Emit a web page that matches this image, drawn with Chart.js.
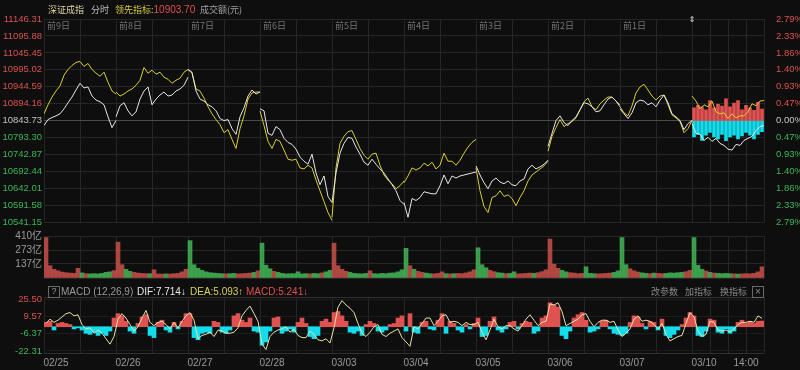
<!DOCTYPE html>
<html>
<head>
<meta charset="utf-8">
<script src="https://cdn.jsdelivr.net/npm/chart.js@4.4.1/dist/chart.umd.min.js"></script>
<style>
html, body { margin: 0; padding: 0; background: #0e0e0e; }
#wrap { position: relative; width: 800px; height: 370px; background: #0e0e0e; overflow: hidden; }
canvas { position: absolute; left: 0; }
</style>
</head>
<body>
<div id="wrap">
  <canvas id="main" width="800" height="232" style="top:0px"></canvas>
  <canvas id="vol" width="800" height="58" style="top:228px"></canvas>
  <canvas id="macd" width="800" height="86" style="top:284px"></canvas>
</div>
<script>
// ---- data ----
const dayLabels = ['02/25', '02/26', '02/27', '02/28', '03/03', '03/04', '03/05', '03/06', '03/07', '03/10'];
const dayNames = ['前9日', '前8日', '前7日', '前6日', '前5日', '前4日', '前3日', '前2日', '前1日'];
const todayTime = '14:00';
const prevClose = 10843.73;
const priceTicks = [11146.31, 11095.88, 11045.45, 10995.02, 10944.59, 10894.16, 10843.73,
                    10793.30, 10742.87, 10692.44, 10642.01, 10591.58, 10541.15];
const volTicks = [137, 273, 410];
const macdTicks = [25.50, 9.57, -6.37, -22.31];

// 深证成指, 19 samples per day (open .. close)
const indexPrice = [
  [10829, 10847, 10853, 10858, 10864, 10879, 10897, 10914, 10935, 10955, 10941, 10944, 10917, 10905, 10900, 10891, 10855, 10823, 10844],
  [10855, 10888, 10897, 10873, 10858, 10870, 10908, 10932, 10944, 10891, 10908, 10920, 10929, 10917, 10920, 10932, 10938, 10949, 10973],
  [10996, 10988, 10932, 10908, 10902, 10891, 10885, 10873, 10850, 10844, 10847, 10820, 10803, 10855, 10882, 10917, 10935, 10923, 10929],
  [10879, 10873, 10806, 10800, 10826, 10817, 10791, 10779, 10773, 10759, 10735, 10723, 10714, 10744, 10688, 10653, 10679, 10618, 10600],
  [10600, 10688, 10747, 10776, 10794, 10791, 10765, 10744, 10720, 10711, 10729, 10714, 10700, 10688, 10670, 10653, 10635, 10606, 10594],
  [10600, 10556, 10612, 10606, 10615, 10632, 10629, 10626, 10626, 10650, 10682, 10656, 10679, 10673, 10679, 10682, 10685, 10688, 10691],
  [10709, 10682, 10659, 10641, 10664, 10673, 10661, 10656, 10664, 10653, 10650, 10664, 10670, 10700, 10711, 10700, 10706, 10714, 10726],
  [10767, 10806, 10844, 10858, 10838, 10829, 10844, 10855, 10876, 10897, 10894, 10885, 10870, 10873, 10891, 10908, 10914, 10902, 10885],
  [10879, 10864, 10850, 10867, 10897, 10905, 10902, 10891, 10897, 10885, 10905, 10920, 10897, 10864, 10855, 10844, 10817, 10835, 10844],
  [10835, 10806, 10803, 10785, 10794, 10782, 10791, 10776, 10770, 10759, 10756, 10773, 10770, 10785, 10791, 10797, 10814, 10826, 10829]
];

// 领先指标
const leadPrice = [
  [10864, 10891, 10914, 10932, 10947, 10979, 10996, 11008, 11017, 11020, 11005, 11014, 10996, 10985, 10976, 10988, 10958, 10932, 10923],
  [10929, 10917, 10923, 10932, 10938, 10949, 10964, 11002, 10985, 10994, 10982, 10988, 10973, 10967, 10955, 10964, 10970, 10988, 10996],
  [10996, 10985, 10938, 10932, 10911, 10885, 10864, 10847, 10832, 10808, 10817, 10788, 10761, 10820, 10858, 10908, 10926, 10929, 10929],
  [10873, 10829, 10782, 10761, 10788, 10782, 10756, 10729, 10726, 10729, 10703, 10700, 10711, 10703, 10667, 10635, 10603, 10570, 10547],
  [10556, 10703, 10776, 10797, 10811, 10814, 10788, 10761, 10741, 10729, 10744, 10747, 10711, 10682, 10667, 10656, 10641, 10650, 10664],
  [10659, 10679, 10703, 10697, 10703, 10717, 10709, 10720, 10700, 10711, 10747, 10723, 10723, 10711, 10726, 10747, 10765, 10779, 10788],
  [10703, 10635, 10588, 10570, 10615, 10620, 10635, 10618, 10623, 10612, 10591, 10615, 10635, 10664, 10682, 10691, 10700, 10709, 10723],
  [10753, 10797, 10823, 10847, 10826, 10835, 10841, 10852, 10876, 10900, 10911, 10885, 10876, 10894, 10905, 10914, 10914, 10902, 10891],
  [10885, 10867, 10858, 10888, 10926, 10944, 10952, 10935, 10917, 10905, 10917, 10920, 10891, 10861, 10852, 10841, 10808, 10820, 10844],
  [10917, 10902, 10879, 10891, 10885, 10902, 10870, 10864, 10867, 10850, 10864, 10852, 10858, 10858, 10870, 10894, 10888, 10902, 10903.70]
];

// today's red / cyan bars, in percent
const todayUp = [0.35, 0.42, 0.38, 0.30, 0.55, 0.35, 0.45, 0.40, 0.60, 0.38, 0.48, 0.55, 0.30, 0.42, 0.35, 0.28, 0.50, 0.32];
const todayDown = [-0.45, -0.38, -0.54, -0.40, -0.32, -0.45, -0.50, -0.38, -0.55, -0.45, -0.40, -0.50, -0.42, -0.32, -0.40, -0.50, -0.38, -0.30];

// 成交额 (亿), 18 buckets per day
const volume = [
  [395, 120, 85, 70, 58, 52, 48, 45, 95, 50, 42, 40, 42, 40, 45, 55, 60, 72],
  [350, 130, 85, 65, 55, 48, 45, 42, 42, 80, 40, 38, 40, 38, 42, 45, 60, 85],
  [365, 130, 95, 75, 60, 52, 48, 45, 42, 40, 42, 45, 40, 42, 45, 48, 55, 70],
  [340, 125, 90, 65, 55, 45, 40, 42, 42, 60, 40, 42, 40, 45, 42, 50, 60, 75],
  [340, 120, 85, 65, 55, 45, 42, 40, 45, 70, 42, 40, 45, 42, 48, 50, 60, 80],
  [290, 120, 85, 65, 55, 48, 42, 40, 45, 60, 42, 40, 42, 45, 42, 50, 60, 80],
  [295, 130, 100, 75, 62, 52, 48, 42, 45, 60, 40, 42, 45, 48, 45, 52, 62, 80],
  [380, 135, 95, 75, 60, 52, 48, 42, 45, 110, 45, 42, 40, 42, 45, 48, 55, 70],
  [395, 130, 90, 70, 58, 50, 45, 42, 48, 45, 42, 45, 50, 48, 52, 55, 62, 75],
  [395, 125, 85, 68, 55, 48, 45, 42, 45, 42, 40, 38, 40, 42, 40, 45, 60, 110]
];

// MACD histogram
const macdBar = [
  [4, 5, -3, 3, 4, 3, 2, -2, -1, -3, -6, -7, -5, -8, -6, -8, -4, 8],
  [12, 10, 5, -4, -6, 3, 9, 11, -8, -10, 4, 6, -3, -5, 4, -2, 5, 12],
  [12, -10, -12, -6, -5, -6, 5, 4, -5, -6, -3, 10, 12, 6, 4, 8, -4, -5],
  [-17, -14, -4, 8, 9, -6, -4, -2, -5, 4, 8, 3, -9, -11, -8, 5, 7, 4],
  [13, 14, 10, 5, -5, -6, -4, -8, 2, 5, 3, -4, -5, -3, 2, 3, 8, 10],
  [-4, 12, -5, -6, 4, 5, -2, -3, 6, 12, -6, 5, 3, -3, -5, 2, -2, 3],
  [8, -9, -8, 5, 9, -3, -5, -2, 4, 5, -2, 3, 5, 4, -6, -4, 8, 10],
  [22, 20, 18, -8, -11, -4, 8, 11, 13, 6, -5, -4, -2, 5, 6, -2, -6, -7],
  [-8, -6, 4, 10, 9, 3, -2, 5, 4, -3, 7, -8, -10, -7, -3, 2, 8, 13],
  [10, -8, -9, -4, 7, 6, -5, -6, -2, -6, -4, 4, 6, 3, 5, 3, 5, 5.241]
];

// DIF line
const difLine = [
  [3, 7, 4, 6, 9, 12, 13, 10, 11, 2, -2, -1, -6, -3, -6, -11, -16, -9],
  [7, 12, 8, 2, -4, 0, 8, 15, 4, 1, 4, 5, 2, -2, 4, -1, 5, 10],
  [13, 6, -11, -8, -7, -5, -9, -3, -4, -6, -6, -5, -1, 10, 15, 19, 12, 5],
  [-16, -21, -9, -5, -3, -2, 0, -5, -2, -8, -10, -10, -4, -7, -12, -13, -11, -15],
  [-1, 18, 24, 20, 17, 13, 3, -6, -9, -5, 0, 2, -7, -9, -6, -4, -2, -10],
  [-14, -18, 0, -2, 3, 8, 8, 1, 5, 10, 11, 4, 5, 4, 1, 4, 2, 2],
  [4, -5, -12, -3, 7, 0, -2, 1, 1, -2, -4, 1, 7, 11, 6, 1, 4, 5],
  [21, 20, 22, 14, 1, 3, 5, 7, 11, 12, 5, 0, 4, 6, 6, 4, 5, -3],
  [-9, -6, -2, 7, 10, 5, 6, 5, 2, -2, 3, -7, -13, -11, -9, -8, 3, 13],
  [9, -4, -9, -7, 5, 4, -3, -4, -3, -5, -2, 2, 4, 4, 5, 4, 10, 7.714]
];
const deaLast = 5.093;
const macdMin = -24.15, macdMax = 27.34;

// ---- styles ----
const C = {
  grid: '#262626', mid: '#4a4a4a', red: '#d9534f', green: '#3db55a', gray: '#c4c4c4', text: '#9a9a9a',
  white: '#e6e6e6', yellow: '#d8cf2e', volRed: 'rgba(201,80,74,0.85)', volGreen: 'rgba(67,181,87,0.85)',
  barRed: '#e05252', barCyan: '#13dcec', macdLine: '#e6e2a6'
};
const LATIN = '"Liberation Sans", "Noto Sans CJK SC", sans-serif';
const CJK = '"Noto Sans CJK SC", sans-serif';

Chart.defaults.animation = false;
Chart.defaults.font.family = LATIN;
Chart.defaults.font.size = 10;
Chart.defaults.color = C.text;

const N = 18; // samples per day
const X_MAX = dayLabels.length * N;
const today = (dayLabels.length - 1) * N;

const gridTicks = [];
for (let d = 0; d < dayLabels.length - 1; d++) gridTicks.push(d * N, d * N + N / 2);
for (let q = 0; q <= 4; q++) gridTicks.push(today + q * N / 4);

function linePoints(days) {
  const pts = [];
  days.forEach((arr, d) => {
    if (d) pts.push({ x: d * N, y: null });
    arr.forEach((v, i) => pts.push({ x: d * N + i, y: v }));
  });
  return pts;
}
function bucketPoints(days) {
  return days.flatMap((arr, d) => arr.map((v, i) => ({ x: d * N + i + 0.5, y: v })));
}

function xScale(extra) {
  return Object.assign({
    type: 'linear', min: 0, max: X_MAX, offset: false,
    border: { display: false },
    grid: { color: C.grid, drawTicks: false, offset: false },
    ticks: { display: false },
    afterBuildTicks: s => { s.ticks = gridTicks.map(v => ({ value: v })); },
    afterFit: s => { s.height = 0; }
  }, extra || {});
}

const pct = v => (v - prevClose) / prevClose * 100;
const pctMax = pct(priceTicks[0]);
const signColor = (v, zeroColor) => Math.abs(v) < 1e-9 ? zeroColor : (v > 0 ? C.red : C.green);

// ---- main price chart ----
const mainText = {
  id: 'mainText',
  afterDraw(chart) {
    const ctx = chart.ctx, xs = chart.scales.x;
    ctx.save();
    ctx.textBaseline = 'middle';
    ctx.font = '9px ' + CJK;
    ctx.fillStyle = '#ddd4a4'; ctx.fillText('深证成指', 48, 10);
    ctx.fillStyle = '#bdbdbd'; ctx.fillText('分时', 91, 10);
    ctx.fillStyle = '#d4cc3c'; ctx.fillText('领先指标:', 115, 10);
    const w = ctx.measureText('领先指标:').width;
    const last = leadPrice[leadPrice.length - 1];
    ctx.font = '10px ' + LATIN;
    ctx.fillStyle = '#e05050'; ctx.fillText(last[last.length - 1].toFixed(2), 115 + w, 10);
    ctx.font = '9px ' + CJK;
    ctx.fillStyle = '#a0a0a0'; ctx.fillText('成交额(元)', 200, 10);
    ctx.fillStyle = '#767676';
    dayNames.forEach((n, d) => ctx.fillText(n, xs.getPixelForValue(d * N) + 3, 26));
    ctx.font = '8px "DejaVu Sans", sans-serif';
    ctx.fillStyle = '#e0e0e0'; ctx.textAlign = 'center';
    ctx.fillText('⇕', xs.getPixelForValue(today), 20);
    ctx.restore();
  }
};

new Chart(document.getElementById('main'), {
  type: 'bar',
  data: {
    datasets: [
      { type: 'line', data: linePoints(indexPrice), borderColor: C.white, borderWidth: 1, pointRadius: 0, yAxisID: 'y', order: 0 },
      { type: 'line', data: linePoints(leadPrice), borderColor: C.yellow, borderWidth: 1, pointRadius: 0, yAxisID: 'y', order: 1 },
      { data: todayUp.map((v, i) => ({ x: today + i + 0.5, y: v })), backgroundColor: C.barRed, barThickness: 3, grouped: false, yAxisID: 'yPct', order: 2 },
      { data: todayDown.map((v, i) => ({ x: today + i + 0.5, y: v })), backgroundColor: C.barCyan, barThickness: 3, grouped: false, yAxisID: 'yPct', order: 2 }
    ]
  },
  options: {
    responsive: false, events: [],
    layout: { padding: { top: 19, bottom: 7, left: 0, right: 0 } },
    plugins: { legend: { display: false }, tooltip: { enabled: false } },
    scales: {
      x: xScale(),
      y: {
        position: 'left', min: priceTicks[priceTicks.length - 1], max: priceTicks[0],
        border: { display: false },
        grid: { drawTicks: false, color: c => Math.abs(c.tick.value - prevClose) < 1e-6 ? C.mid : C.grid },
        afterBuildTicks: s => { s.ticks = priceTicks.slice().reverse().map(v => ({ value: v })); },
        ticks: { autoSkip: false, padding: 2, font: { size: 9.5 }, callback: v => v.toFixed(2), color: c => signColor(c.tick.value - prevClose, C.gray) },
        afterFit: s => { s.width = 44; }
      },
      yPct: {
        position: 'right', min: -pctMax, max: pctMax,
        border: { display: false }, grid: { display: false },
        afterBuildTicks: s => { s.ticks = priceTicks.slice().reverse().map(v => ({ value: pct(v) })); },
        ticks: { autoSkip: false, padding: 4, font: { size: 9.5 }, callback: v => Math.abs(v).toFixed(2) + '%', color: c => signColor(c.tick.value, C.gray) },
        afterFit: s => { s.width = 36; }
      }
    }
  },
  plugins: [mainText]
});

// ---- volume chart ----
const volColors = volume.flatMap((arr, d) => arr.map((v, i) =>
  indexPrice[d][i + 1] >= indexPrice[d][i] ? C.volRed : C.volGreen));

new Chart(document.getElementById('vol'), {
  type: 'bar',
  data: { datasets: [{ data: bucketPoints(volume), backgroundColor: volColors, barThickness: 4 }] },
  options: {
    responsive: false, events: [],
    layout: { padding: { top: 6, bottom: 2, left: 0, right: 36 } },
    plugins: { legend: { display: false }, tooltip: { enabled: false } },
    scales: {
      x: xScale(),
      y: {
        min: 0, max: volTicks[volTicks.length - 1],
        border: { display: false },
        grid: { drawTicks: false, color: C.grid },
        afterBuildTicks: s => { s.ticks = [0].concat(volTicks).map(v => ({ value: v })); },
        ticks: { autoSkip: false, padding: 2, color: C.text, callback: v => v ? v + '亿' : '' },
        afterFit: s => { s.width = 44; }
      }
    }
  }
});

// ---- MACD chart ----
const labelAt = new Map();
dayLabels.forEach((l, d) => labelAt.set((d * N + 3).toFixed(2), l));
labelAt.set((today + 3 * N / 4).toFixed(2), todayTime);
const macdXTicks = Array.from(new Set(gridTicks.map(v => v.toFixed(2)).concat(Array.from(labelAt.keys()))))
  .map(Number).sort((a, b) => a - b);
const gridKeys = new Set(gridTicks.map(v => v.toFixed(2)));

const macdText = {
  id: 'macdText',
  afterDraw(chart) {
    const ctx = chart.ctx;
    ctx.save();
    ctx.textBaseline = 'middle';
    ctx.strokeStyle = '#6a6a6a'; ctx.lineWidth = 1;
    ctx.strokeRect(48.5, 2.5, 11, 11);
    ctx.font = '9px ' + LATIN; ctx.fillStyle = '#9a9a9a'; ctx.textAlign = 'center';
    ctx.fillText('?', 54, 8);
    ctx.textAlign = 'left';
    ctx.font = '10px ' + LATIN;
    const lastDif = difLine[difLine.length - 1], lastBar = macdBar[macdBar.length - 1];
    ctx.fillStyle = '#9a9a9a'; ctx.fillText('MACD (12,26,9)', 61, 8);
    ctx.fillStyle = '#e8e8e8'; ctx.fillText('DIF:' + lastDif[lastDif.length - 1].toFixed(3) + '↓', 137, 8);
    ctx.fillStyle = '#d8d05a'; ctx.fillText('DEA:' + deaLast.toFixed(3) + '↑', 190, 8);
    ctx.fillStyle = '#e05050'; ctx.fillText('MACD:' + lastBar[lastBar.length - 1].toFixed(3) + '↓', 246, 8);
    ctx.font = '9px ' + CJK; ctx.fillStyle = '#8a8a8a';
    ctx.fillText('改参数', 651, 8);
    ctx.fillText('加指标', 685, 8);
    ctx.fillText('换指标', 720, 8);
    ctx.strokeRect(752.5, 2.5, 11, 11);
    ctx.font = '10px ' + LATIN; ctx.textAlign = 'center';
    ctx.fillText('×', 758, 8);
    ctx.restore();
  }
};

new Chart(document.getElementById('macd'), {
  type: 'bar',
  data: {
    datasets: [
      { type: 'line', data: bucketPoints(difLine), borderColor: C.macdLine, borderWidth: 1, pointRadius: 0, order: 0 },
      { data: bucketPoints(macdBar), backgroundColor: bucketPoints(macdBar).map(p => p.y >= 0 ? C.barRed : C.barCyan), barThickness: 4, order: 1 }
    ]
  },
  options: {
    responsive: false, events: [],
    layout: { padding: { top: 13, bottom: 0, left: 0, right: 36 } },
    plugins: { legend: { display: false }, tooltip: { enabled: false } },
    scales: {
      x: xScale({
        grid: { drawTicks: false, offset: false, color: c => c.tick && gridKeys.has(c.tick.value.toFixed(2)) ? C.grid : 'rgba(0,0,0,0)' },
        afterBuildTicks: s => { s.ticks = macdXTicks.map(v => ({ value: v })); },
        ticks: { display: true, autoSkip: false, maxRotation: 0, align: 'center', padding: 4, color: C.text,
                 callback: v => labelAt.get(Number(v).toFixed(2)) || '' },
        afterFit: s => { s.height = 17; }
      }),
      y: {
        min: macdMin, max: macdMax,
        border: { display: false },
        grid: { drawTicks: false, color: c => (c.tick.value === macdMin || c.tick.value === macdMax) ? '#303030' : (c.tick.value === 0 ? '#2a2a2a' : '#1c1c1c') },
        afterBuildTicks: s => { s.ticks = [macdMin].concat(macdTicks.slice().reverse(), [macdMax]).map(v => ({ value: v })); },
        ticks: { autoSkip: false, padding: 2, font: { size: 9.5 },
                 callback: v => macdTicks.includes(v) ? v.toFixed(2) : '',
                 color: c => signColor(c.tick.value, C.gray) },
        afterFit: s => { s.width = 44; }
      }
    }
  },
  plugins: [macdText]
});
</script>
</body>
</html>
